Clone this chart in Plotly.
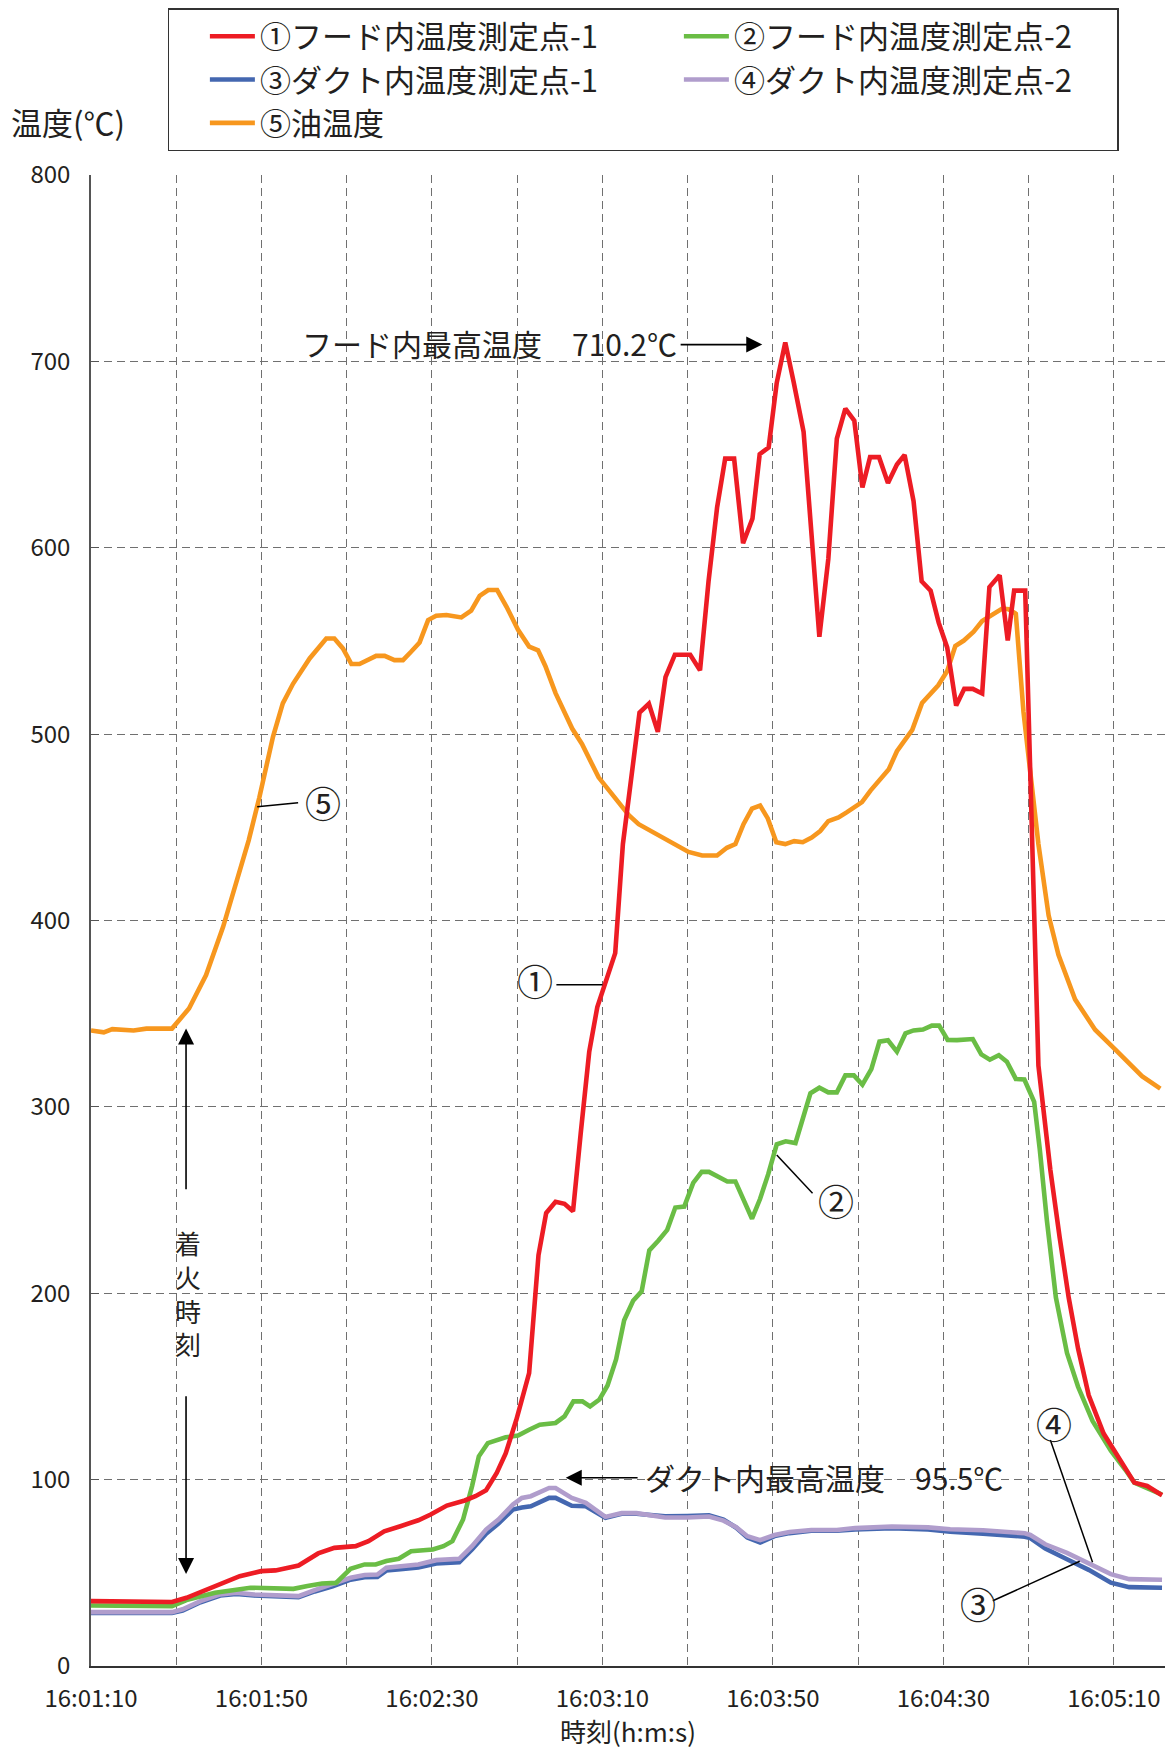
import plotly.graph_objects as go

# ---- data (time in seconds after 16:01:10, temperature in deg C) ----
TICK_VALS = [0, 20, 40, 60, 80, 100, 120, 140, 160, 180, 200, 220, 240]
TICK_LABELS = ["16:01:10", "", "16:01:50", "", "16:02:30", "", "16:03:10", "",
               "16:03:50", "", "16:04:30", "", "16:05:10"]

NAMES = ["①フード内温度測定点-1", "②フード内温度測定点-2", "③ダクト内温度測定点-1",
         "④ダクト内温度測定点-2", "⑤油温度"]

T1 = [0, 9, 19, 22.4, 28.2, 34.9, 39.9, 43.3, 48.7, 53.3, 57.1, 62.1, 65.1, 68.8, 72.6, 76.8,
      79.7, 83.5, 87.7, 90.2, 92.7, 95.2, 97.3, 99.8, 102.8, 103.8, 105, 106.8, 109, 111.1, 113.1,
      114.9, 116.9, 118.8, 123, 124.8, 127, 128.7, 130.9, 133, 134.8, 137, 140.6, 142.9, 144.9,
      146.9, 148.8, 150.9, 153, 155.2, 156.9, 159, 160.9, 162.9, 164.9, 167.2, 169.1, 170.9, 173,
      175, 177, 179.1, 181, 182.8, 184.9, 187, 189.1, 190.9, 193, 194.9, 197, 198.9, 200.9, 203,
      204.9, 206.9, 209.1, 210.8, 213.2, 215.1, 216.6, 219.2, 222.3, 225.1, 227.3, 229.4, 231.6,
      234.1, 237.6, 241.8, 244.8, 247.8, 251.3]
V1 = [34.8, 34.8, 34.3, 36.6, 42, 48.2, 50.9, 51.3, 53.9, 60.4, 63.4, 64.3, 67, 72.3, 75, 78.2,
      81.3, 86.1, 88.8, 91.1, 94.3, 103.6, 114, 132.1, 157.1, 187.5, 220.5, 243, 249.1, 248, 244,
      285.7, 329.5, 353.6, 382.5, 441, 481.6, 511.5, 516.3, 501.2, 530.6, 542.6, 542.6, 534.2, 582,
      621.5, 647.8, 647.8, 602.4, 615.6, 650.2, 653.8, 688.5, 710.2, 688.5, 662.2, 606, 552.2, 594,
      658.6, 674.6, 668.2, 632.3, 648.6, 648.6, 634.7, 644.7, 649.8, 625.1, 582, 577, 559.8, 546.4, 515.3,
      524.3, 524.3, 521.8, 578.9, 585.2, 550.2, 577, 577, 322.2, 266.2, 229.7, 197.7, 170.3,
      145.2, 124.7, 108.7, 98.4, 96.6, 91.6]

T2 = [0, 19, 22.4, 29.1, 37.4, 47.5, 50.8, 54.2, 57.5, 60.9, 64.2, 66.8, 69.3, 72.2, 75.1, 80.2,
      82.7, 84.8, 87.3, 89.4, 91, 93.1, 97.3, 100.2, 102.8, 105.3, 109, 111.1, 113.2, 115.3, 117.1,
      119.3, 121.2, 123.2, 125.1, 127.2, 129.2, 131, 133.1, 135.2, 137.1, 139.2, 141.3, 143.3, 145,
      149.3, 151.2, 155.1, 157, 158.9, 160.9, 163, 165.3, 167.3, 168.8, 170.9, 173, 175, 177, 179,
      181, 183.1, 185, 187, 189.1, 191.1, 193, 195.2, 197.3, 199, 201, 203.2, 206.9, 208.9, 210.9,
      213, 214.9, 217, 219, 221.3, 222.6, 224.3, 226.4, 229, 231.6, 235, 239.3, 242.7, 244.8, 247.8,
      251.3]
V2 = [32.5, 32.1, 35.4, 39.3, 42, 41.4, 42.9, 44.3, 44.6, 52.1, 54.5, 54.5, 56.3, 57.5, 61.6, 62.5,
      64.3, 67, 78.6, 96.4, 112.5, 119.6, 122.7, 123.6, 126.8, 129.5, 130.4, 133.9, 142, 142, 139.3,
      143, 150.5, 164.5, 185.5, 196, 201, 223, 228.2, 234, 246, 246.5, 259.2, 265.1, 265.1,
      260, 260, 240, 250.7, 263.9, 279.9, 281.5, 280.6, 297, 307.3, 310.3, 307.8, 307.8, 316.9, 316.9,
      311.9, 320.3, 335, 335.7, 329.6, 339.4, 341, 341.5, 343.6, 343.6, 335.9, 335.8, 336.4, 328.2, 325.3,
      327.7, 324.2, 315, 314.7, 302.7, 277.6, 238.8, 197.7, 168, 149.8, 131.5, 115.5, 105.3, 98.4, 95.4,
      92]

T34 = [0, 19, 21.5, 25.7, 30.3, 34.1, 38.3, 44.1, 48.7, 52.5, 56.7, 60.9, 64.2, 67.2, 69.3, 72.6,
       76.8, 81, 86.4, 89.4, 92.7, 95.6, 99, 101.1, 103.2, 107.5, 109, 112.8, 116.1, 120.7, 124.5, 128,
       131.3, 134.7, 139.9, 145, 148.4, 151.4, 154, 157, 160.4, 163.9, 169, 175, 179.3, 187.9, 196.4,
       201.6, 209.3, 216.1, 219.1, 220.4, 223.9, 229, 234.1, 239.3, 243.6, 251.3]
V3 = [28.4, 28.4, 29.8, 34.2, 37.8, 38.7, 37.8, 37.3, 36.9, 40, 42.8, 46.3, 47.6, 47.8, 51.2, 52,
      52.8, 55, 55.7, 62.5, 71, 76.5, 83.9, 85, 85.7, 90.2, 90.2, 86, 85.7, 79.5, 81.7, 81.7,
      81, 80.3, 80.5, 80.8, 78.5, 74.2, 69, 66.2, 69.7, 71.3, 72.6, 72.6, 73.3, 74, 73.2,
      72, 71, 70, 69.4, 68.6, 63, 57.3, 51.6, 44.7, 42.3, 42]
V4 = [28.9, 28.9, 30.4, 34.8, 38.4, 39.3, 38.4, 37.9, 37.5, 40.7, 43.8, 47.3, 48.8, 49.1, 52.7, 53.6,
      54.5, 56.8, 57.5, 64.3, 73.2, 78.6, 86.6, 90.2, 91.1, 95.5, 95.5, 90.2, 87.5, 80, 82, 82,
      80.8, 79.7, 79.7, 80.2, 78, 74.5, 69.6, 67.5, 70.3, 71.9, 73, 73, 74, 74.8, 74.4,
      73.4, 72.8, 71.8, 71.2, 70.3, 65.3, 60.7, 55, 49.3, 46.6, 46.3]

T5 = [0, 3, 5, 10, 13, 16, 19, 23, 27, 31, 34, 37, 39.5, 42.7, 45, 47.4, 51.3, 55.2, 57.1, 59.1,
      61.1, 63, 66.9, 68.9, 71.2, 73.2, 75.1, 77.1, 79.1, 81, 83.4, 86.9, 89.2, 91.2, 93.2, 95.3,
      97.5, 100.2, 102.8, 104.9, 106.6, 109, 112.9, 115.2, 119.1, 121.5, 126.2, 128.5, 133.2, 135.5,
      140.2, 143.4, 146.9, 149.2, 151.2, 153.1, 155.1, 157, 158.8, 160.8, 162.9, 165, 167, 169.1,
      171.1, 173, 175.4, 177.3, 180.9, 182.9, 185.2, 187.2, 189.1, 192.7, 195, 198.8, 200.9, 202.8,
      204.8, 207.1, 209.1, 212.2, 213.8, 215.3, 217, 218.8, 220.4, 222.3, 224.7, 227, 230.9, 235.6,
      240.3, 242.7, 246.6, 250.9]
V5 = [341, 340, 341.7, 341, 342, 342, 342, 352.8, 370.7, 396.6, 420, 443, 466, 498.6, 516.5, 527,
      540.6, 551.3, 551.3, 546, 537.6, 537.6, 542, 542, 539.7, 539.7, 544.2, 549.2, 561.2, 563.5,
      563.9, 562.6, 566.2, 574.2, 577.3, 577.3, 568.3, 556, 547, 545, 536.6, 522, 503, 494.7, 476.8,
      469.6, 456.5, 451.7, 445.7, 443.3, 436.8, 434.9, 434.9, 439, 441, 451.7, 460, 461.7, 454.8,
      442, 441, 442.6, 442, 444.5, 448, 453.3, 455.3, 458, 463.5, 469.7, 475.5, 481.2, 490.8, 502.3,
      516.7, 526.2, 533.9, 547.3, 550.2, 555, 560.7, 565.5, 567.4, 567, 564.6, 511.9, 479.3, 441,
      402.7, 381.6, 357.7, 341.4, 330.8, 325.1, 316.5, 309.8]

COLORS = ["#ED1C24", "#6ABD45", "#4467B0", "#B09DCC", "#F7971E"]

FONT = "Noto Sans CJK JP"
TXT = "#231F20"

fig = go.Figure()
# draw order: oil first, then ducts, then hood (legend order via legendrank)
series = [(T5, V5, 4), (T34, V3, 2), (T34, V4, 3), (T2, V2, 1), (T1, V1, 0)]
for t, v, i in series:
    fig.add_trace(go.Scatter(x=t, y=v, mode="lines", name=NAMES[i], legendrank=i + 1,
                             line=dict(color=COLORS[i], width=4.6)))

# ---- annotations ----
ann = []
shapes = []

def arrow(x0, y0, x1, y1):
    ann.append(dict(x=x1, y=y1, ax=x0, ay=y0, xref="x", yref="y", axref="x", ayref="y",
                    text="", showarrow=True, arrowhead=2, arrowsize=2.0, arrowwidth=1.6,
                    arrowcolor="black", standoff=0, startstandoff=0))

def label(x, y, text, size, xanchor="center"):
    ann.append(dict(x=x, y=y, xref="x", yref="y", text=text, showarrow=False,
                    xanchor=xanchor, yanchor="middle",
                    font=dict(family=FONT, size=size, color=TXT)))

def leader(x0, y0, x1, y1):
    shapes.append(dict(type="line", xref="x", yref="y", x0=x0, y0=y0, x1=x1, y1=y1,
                       line=dict(color="black", width=1.5)))

label(138.0, 710, "フード内最高温度　710.2℃", 30, xanchor="right")
arrow(138.0, 709, 157.5, 709)
label(129.6, 101.5, "ダクト内最高温度　95.5℃", 30, xanchor="left")
arrow(128.6, 101, 111.4, 101)
label(22.7, 200, "着<br>火<br>時<br>刻", 26)
arrow(22.3, 255, 22.3, 342)
arrow(22.3, 145.5, 22.3, 49.3)

label(54.4, 463.7, "⑤", 36)
leader(39.0, 461, 48.6, 463.2)
label(104.2, 367.9, "①", 36)
leader(109.2, 365.5, 120.0, 365.5)
label(174.8, 250.2, "②", 36)
leader(160.9, 274.2, 169.3, 253.7)
label(226.0, 130.4, "④", 36)
leader(225.1, 121.2, 235.0, 55.7)
label(208.2, 33.8, "③", 36)
leader(211.6, 35.0, 232.0, 56.2)

ann.append(dict(x=-0.0767, y=1.0357, xref="paper", yref="paper", text="温度(℃)",
                showarrow=False, xanchor="left", yanchor="middle",
                font=dict(family=FONT, size=31, color=TXT)))

# the page body adds an 8 px margin around the figure, so the figure is sized
# to fit the window exactly and its margins are reduced by that offset
fig.update_layout(
    width=1158, height=1741,
    margin=dict(l=83.3, r=1, t=166.3, b=82.6),
    paper_bgcolor="white", plot_bgcolor="white",
    font=dict(family=FONT, color=TXT),
    annotations=ann, shapes=shapes,
    showlegend=True,
    legend=dict(orientation="h", x=0.0714, y=1.111, xanchor="left", yanchor="top",
                entrywidth=378, entrywidthmode="pixels", itemwidth=45, indentation=36,
                bordercolor="#333333", borderwidth=1.2, bgcolor="white",
                font=dict(family=FONT, size=31, color=TXT),
                traceorder="normal"),
    xaxis=dict(range=[0, 252], tickvals=TICK_VALS, ticktext=TICK_LABELS, automargin=False,
               showgrid=True, gridcolor="#707070", griddash="8px,5px", gridwidth=1,
               showline=True, linecolor="#333333", linewidth=1.5, ticks="",
               zeroline=False, ticklabelstandoff=10,
               tickfont=dict(family=FONT, size=24, color=TXT),
               title=dict(text="時刻(h:m:s)", standoff=10,
                          font=dict(family=FONT, size=26, color=TXT))),
    yaxis=dict(range=[0, 800], dtick=100, tick0=0, automargin=False,
               showgrid=True, gridcolor="#707070", griddash="8px,5px", gridwidth=1,
               showline=True, linecolor="#555555", linewidth=1.5,
               ticks="inside", ticklen=8, tickcolor="#555555",
               zeroline=False, ticklabelstandoff=14,
               tickfont=dict(family=FONT, size=24, color=TXT)),
)

fig.write_html("out.html")
